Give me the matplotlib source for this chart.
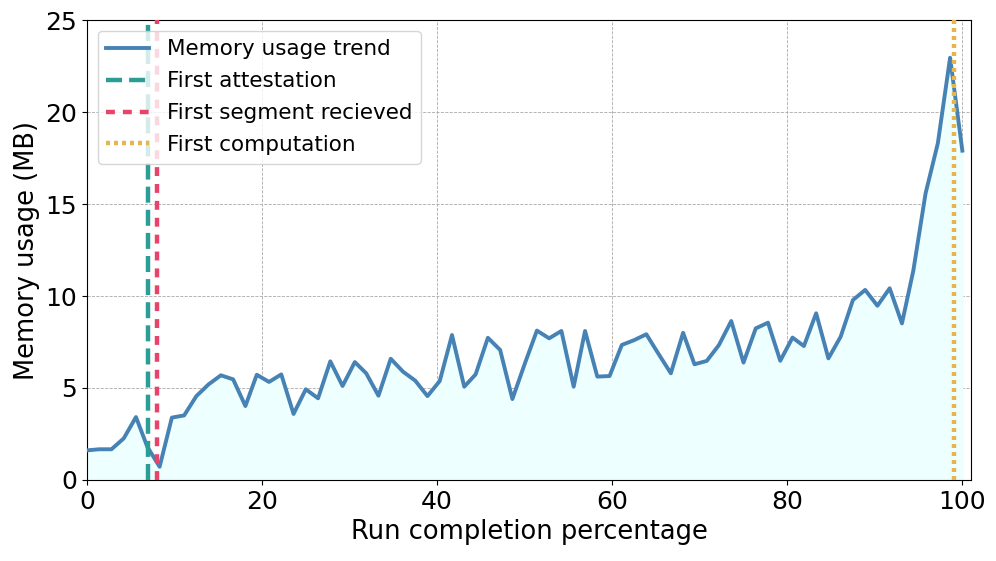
import matplotlib
matplotlib.use("Agg")
import matplotlib.pyplot as plt

# run completion (%) and memory usage (MB)
completion = [0.0, 1.4, 2.8, 4.2, 5.6, 6.9, 8.3, 9.7, 11.1, 12.5, 13.9, 15.3,
              16.7, 18.1, 19.4, 20.8, 22.2, 23.6, 25.0, 26.4, 27.8, 29.2, 30.6,
              31.9, 33.3, 34.7, 36.1, 37.5, 38.9, 40.3, 41.7, 43.1, 44.4, 45.8,
              47.2, 48.6, 50.0, 51.4, 52.8, 54.2, 55.6, 56.9, 58.3, 59.7, 61.1,
              62.5, 63.9, 65.3, 66.7, 68.1, 69.4, 70.8, 72.2, 73.6, 75.0, 76.4,
              77.8, 79.2, 80.6, 81.9, 83.3, 84.7, 86.1, 87.5, 88.9, 90.3, 91.7,
              93.1, 94.4, 95.8, 97.2, 98.6, 100.0]
memory = [1.61, 1.67, 1.67, 2.26, 3.42, 1.8, 0.72, 3.39, 3.51, 4.56, 5.2, 5.69,
          5.47, 4.02, 5.72, 5.33, 5.74, 3.59, 4.93, 4.44, 6.45, 5.11, 6.41,
          5.8, 4.58, 6.59, 5.89, 5.4, 4.56, 5.38, 7.88, 5.07, 5.74, 7.73,
          7.07, 4.40, 6.3, 8.12, 7.7, 8.1, 5.07, 8.1, 5.62, 5.65, 7.34,
          7.6, 7.92, 6.85, 5.8, 8.0, 6.29, 6.47, 7.34, 8.64, 6.38, 8.24,
          8.55, 6.48, 7.74, 7.28, 9.06, 6.61, 7.79, 9.78, 10.33, 9.47, 10.42,
          8.51, 11.38, 15.58, 18.3, 22.95, 17.9]

first_attestation = 7.0
first_segment = 8.0
first_computation = 99.0

fig = plt.figure(figsize=(9.96, 5.61), dpi=100)
ax = fig.add_axes([0.0873, 0.1444, 0.8877, 0.8199])

ax.fill_between(completion, memory, 0, color="#EEFFFF", zorder=1)
ax.plot(completion, memory, color="#4682B4", lw=2.8, label="Memory usage trend", zorder=3)
ax.axvline(first_attestation, color="#2A9D96", lw=3.2, ls=(0, (3.6, 1.6)),
           label="First attestation", zorder=4)
ax.axvline(first_segment, color="#E8436A", lw=3.2, ls=(0, (2.0, 1.8)),
           label="First segment recieved", zorder=4)
ax.axvline(first_computation, color="#E5B74A", lw=3.2, ls=(0, (0.9, 0.9)),
           label="First computation", zorder=4)

ax.set_xlim(0, 101)
ax.set_ylim(0, 25)
ax.set_xticks([0, 20, 40, 60, 80, 100])
ax.set_yticks([0, 5, 10, 15, 20, 25])
ax.tick_params(labelsize=18)
ax.grid(True, ls="--", lw=0.6, color="#AAAAAA", zorder=0)
ax.set_axisbelow(True)

ax.set_xlabel("Run completion percentage", fontsize=18.5)
ax.set_ylabel("Memory usage (MB)", fontsize=18.5)
ax.legend(loc="upper left", fontsize=15.5, labelspacing=0.55)

fig.savefig("out.png", dpi=100)
